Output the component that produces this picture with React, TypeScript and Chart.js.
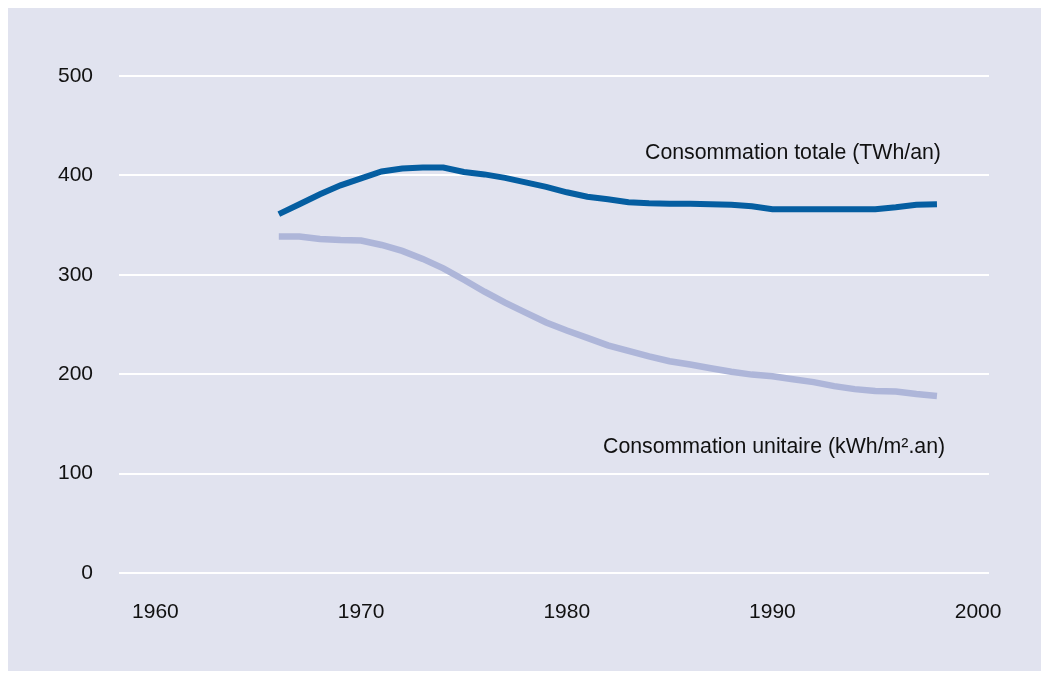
import React, { useEffect, useRef } from "react";
import { Chart, registerables } from "chart.js";

Chart.register(...registerables);

const years = [
  1966, 1967, 1968, 1969, 1970, 1971, 1972, 1973, 1974, 1975, 1976, 1977,
  1978, 1979, 1980, 1981, 1982, 1983, 1984, 1985, 1986, 1987, 1988, 1989,
  1990, 1991, 1992, 1993, 1994, 1995, 1996, 1997, 1998,
];

const totalTWh = [
  361, 371, 381, 390, 397, 404, 407, 408, 408, 403.5, 401, 397.5,
  393, 388.5, 383, 378.5, 376, 373, 372, 371.5, 371.5, 371, 370.5, 369,
  366, 366, 366, 366, 366, 366, 368, 370.5, 371,
];

const unitKWh = [
  338.5, 338.5, 336, 335, 334.5, 330, 324, 316, 306.5, 295, 283, 272,
  262, 252, 244, 236.6, 229, 223.5, 218, 213, 209.7, 206, 202.4, 199.6,
  198, 195, 192, 188, 185, 183, 182.5, 180, 178,
];

const xTickYears = [1960, 1970, 1980, 1990, 2000];
const yTicks = [0, 100, 200, 300, 400, 500];

const labelTotal = "Consommation totale (TWh/an)";
const labelUnit = "Consommation unitaire (kWh/m².an)";

const BG = "#e1e3ef";
const DARK = "#055ea1";
const LIGHT = "#aeb6d9";
const FONT = "'Liberation Sans', Arial, sans-serif";

const seriesLabels = {
  id: "seriesLabels",
  afterDatasetsDraw(chart: any) {
    const { ctx, scales } = chart;
    const xs = scales.x;
    const ys = scales.y;
    ctx.save();
    ctx.fillStyle = "#111111";
    ctx.font = `21.3px ${FONT}`;
    ctx.textAlign = "center";
    ctx.textBaseline = "middle";
    ctx.fillText(labelTotal, xs.getPixelForValue(1991.0), ys.getPixelForValue(422));
    ctx.fillText(labelUnit, xs.getPixelForValue(1990.08), ys.getPixelForValue(127));
    ctx.restore();
  },
};

export default function App() {
  const ref = useRef<HTMLCanvasElement | null>(null);
  useEffect(() => {
    if (!ref.current) return;
    const chart = new Chart(ref.current, {
      type: "line",
      data: {
        datasets: [
          {
            label: labelTotal,
            data: years.map((y, i) => ({ x: y, y: totalTWh[i] })),
            borderColor: DARK,
            borderWidth: 6,
            pointRadius: 0,
            tension: 0,
            fill: false,
          },
          {
            label: labelUnit,
            data: years.map((y, i) => ({ x: y, y: unitKWh[i] })),
            borderColor: LIGHT,
            borderWidth: 6.5,
            pointRadius: 0,
            tension: 0,
            fill: false,
          },
        ],
      },
      options: {
        animation: false,
        responsive: false,
        maintainAspectRatio: false,
        layout: { padding: { top: 68, right: 53, left: 0, bottom: 0 } },
        plugins: {
          legend: { display: false },
          tooltip: { enabled: false },
        },
        scales: {
          x: {
            type: "linear",
            min: 1958.23,
            max: 2000.53,
            grid: { display: false, drawTicks: false },
            border: { display: false },
            afterBuildTicks: (s: any) => {
              s.ticks = xTickYears.map((v) => ({ value: v }));
            },
            afterFit: (s: any) => {
              s.height = 98;
            },
            ticks: {
              autoSkip: false,
              maxRotation: 0,
              padding: 27,
              color: "#111111",
              font: { family: FONT, size: 21 },
              callback: (v: any) => String(v),
            },
          },
          y: {
            min: 0,
            max: 500,
            grid: { color: "#ffffff", lineWidth: 2, drawTicks: false },
            border: { display: false },
            afterBuildTicks: (s: any) => {
              s.ticks = yTicks.map((v) => ({ value: v }));
            },
            afterFit: (s: any) => {
              s.width = 111;
            },
            ticks: {
              padding: 26,
              color: "#111111",
              font: { family: FONT, size: 21 },
              callback: (v: any) => String(v),
            },
          },
        },
      },
      plugins: [seriesLabels],
    });
    return () => chart.destroy();
  }, []);
  return (
    <div style={{ width: 1034, height: 663, background: BG }}>
      <canvas ref={ref} width={1034} height={663} style={{ display: "block" }} />
    </div>
  );
}
